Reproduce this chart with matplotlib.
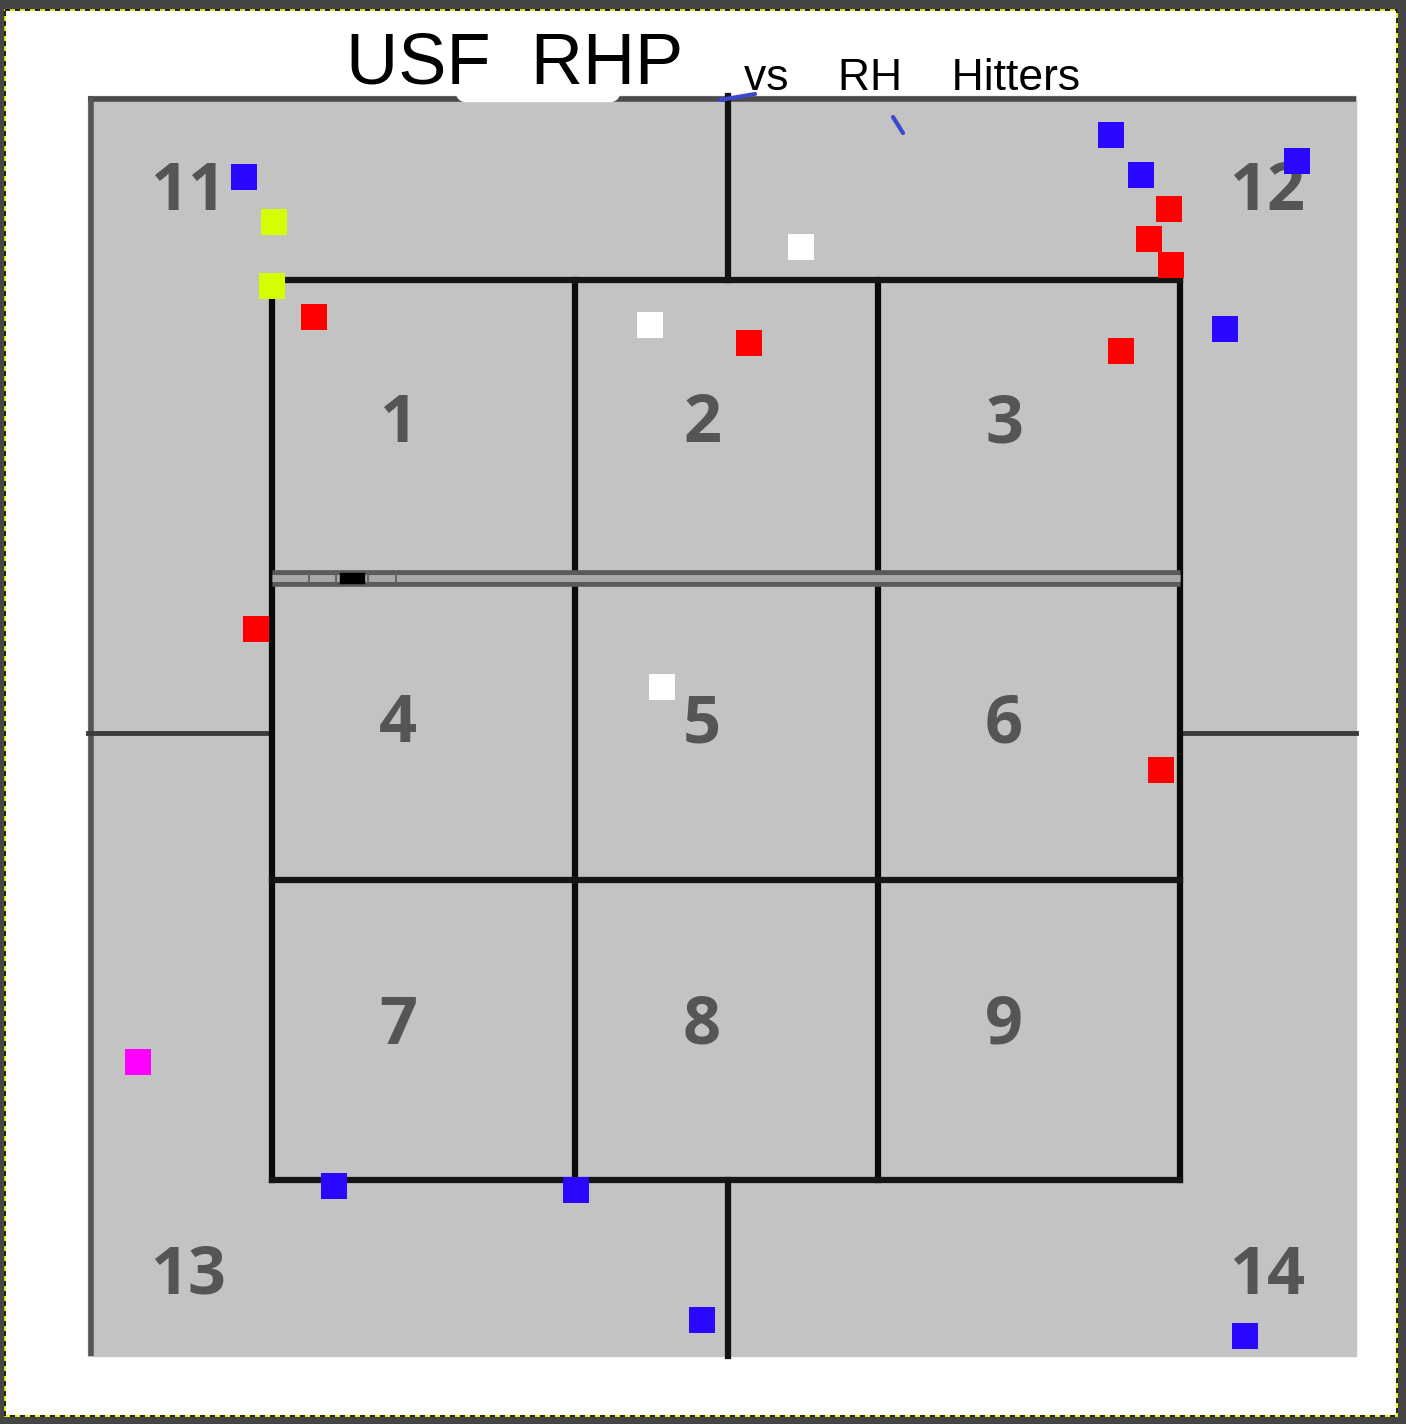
import numpy as np
import matplotlib
matplotlib.use("Agg")
from matplotlib import pyplot as plt
from matplotlib.patches import Rectangle

# zone grid (image pixel space)
zone_x = [272, 575, 878, 1180]
zone_y = [280, 578, 880, 1180]
outer_box = (88, 96, 1356, 1356)  # left, top, right, bottom

inner_labels = ["1", "2", "3", "4", "5", "6", "7", "8", "9"]
outer_labels = ["11", "12", "13", "14"]
outer_label_x = [188, 1267, 188, 1267]
outer_label_y = [190, 190, 1273, 1273]

# pitch locations by result colour
blue_x = [244, 1111, 1141, 1297, 1225, 334, 576, 702, 1245]
blue_y = [177, 135, 175, 161, 329, 1186, 1190, 1320, 1336]
yellow_x = [274, 272]
yellow_y = [222, 286]
red_x = [314, 749, 1169, 1149, 1171, 1121, 256, 1161]
red_y = [317, 343, 209, 239, 265, 351, 629, 770]
white_x = [801, 650, 662]
white_y = [247, 325, 687]
magenta_x = [138]
magenta_y = [1062]

W, H = 1406, 1424
fig = plt.figure(figsize=(W / 100, H / 100), dpi=100)
ax = fig.add_axes([0, 0, 1, 1])
ax.set_xlim(0, W)
ax.set_ylim(H, 0)
ax.axis("off")

# window frame
ax.add_patch(Rectangle((0, 0), W, 9, color="#454545", zorder=1))
ax.add_patch(Rectangle((0, 0), 4, H, color="#454545", zorder=1))
ax.add_patch(Rectangle((1398, 0), 8, H, color="#454545", zorder=1))
ax.add_patch(Rectangle((0, 1417), W, 7, color="#454545", zorder=1))
for ls, col in [("-", "#f0f000"), ((0, (3, 3)), "black")]:
    ax.add_patch(Rectangle((5, 10), 1392, 1406, fill=False, ec=col, lw=1.2, ls=ls, zorder=2))

# gray background
l, t, r, b = outer_box
ax.add_patch(Rectangle((l, t), r - l, b - t, color="#c3c3c3", zorder=3))
ax.plot([l, r], [t + 3, t + 3], color="#4a4a4a", lw=4, zorder=4, solid_capstyle="butt")
ax.plot([l + 3, l + 3], [t, b], color="#555555", lw=4, zorder=4, solid_capstyle="butt")

# outer dividers
ax.plot([728, 728], [t, zone_y[0]], color="#111111", lw=4.5, zorder=4)
ax.plot([728, 728], [zone_y[-1], b], color="#111111", lw=4.5, zorder=4)
ax.plot([l, zone_x[0]], [733, 733], color="#3c3c3c", lw=3.5, zorder=4)
ax.plot([zone_x[-1], r], [733, 733], color="#3c3c3c", lw=3.5, zorder=4)

# strike zone grid
for x in zone_x:
    ax.plot([x, x], [zone_y[0], zone_y[-1]], color="#0a0a0a", lw=4.5, zorder=5,
            solid_capstyle="projecting")
for y in [zone_y[0], zone_y[2], zone_y[3]]:
    ax.plot([zone_x[0], zone_x[-1]], [y, y], color="#151515", lw=4.5, zorder=5,
            solid_capstyle="projecting")
# double line between top and middle rows
ax.plot([zone_x[0], zone_x[-1]], [zone_y[1], zone_y[1]], color="#5a5a5a", lw=12,
        zorder=6, solid_capstyle="butt")
ax.plot([zone_x[0], zone_x[-1]], [zone_y[1], zone_y[1]], color="#a8a8a8", lw=5,
        zorder=6, solid_capstyle="butt")
ax.add_patch(Rectangle((340, 573), 24, 10, color="black", zorder=7))
for x in [309, 336, 368, 396]:
    ax.plot([x, x], [574, 582], color="#666666", lw=1.5, zorder=7)

# zone numbers
cx = [398, 702, 1004]
cy = [(zone_y[i] + zone_y[i + 1]) / 2 - 4 for i in range(3)]
for i, lab in enumerate(inner_labels):
    ax.text(cx[i % 3], cy[i // 3], lab, fontsize=48, family="Open Sans",
            weight="bold", color="#555555", ha="center", va="center", zorder=6)
for lab, x, y in zip(outer_labels, outer_label_x, outer_label_y):
    ax.text(x, y + 3, lab, fontsize=48, family="Open Sans", weight="bold",
            color="#555555", ha="center", va="center", zorder=6)

# title (hand-written in the original)
ax.plot([465, 610], [92, 92], color="white", lw=14, zorder=8, solid_capstyle="round")
ax.plot([170, 250], [88, 88], color="white", lw=8, zorder=8, solid_capstyle="round")
ax.text(515, 65, "USF  RHP", fontsize=52, color="black", ha="center", va="center",
        family="Liberation Sans", zorder=9)
ax.text(912, 78, "vs    RH    Hitters", fontsize=32, color="black", ha="center",
        va="center", family="Liberation Sans", zorder=9)
ax.plot([720, 755], [100, 94], color="#3a48d0", lw=3, zorder=9, solid_capstyle="round")
ax.plot([893, 903], [117, 133], color="#3a48d0", lw=3, zorder=9, solid_capstyle="round")

# pitches
s = (26 * 0.72) ** 2
for xs, ys, col in [(blue_x, blue_y, "#2a08ff"), (yellow_x, yellow_y, "#d4ff00"),
                    (red_x, red_y, "#ff0000"), (white_x, white_y, "white"),
                    (magenta_x, magenta_y, "#ff00ff")]:
    ax.scatter(xs, ys, s=s, marker="s", c=col, linewidths=0, zorder=10)

fig.savefig("out.png", dpi=100, facecolor="white")
